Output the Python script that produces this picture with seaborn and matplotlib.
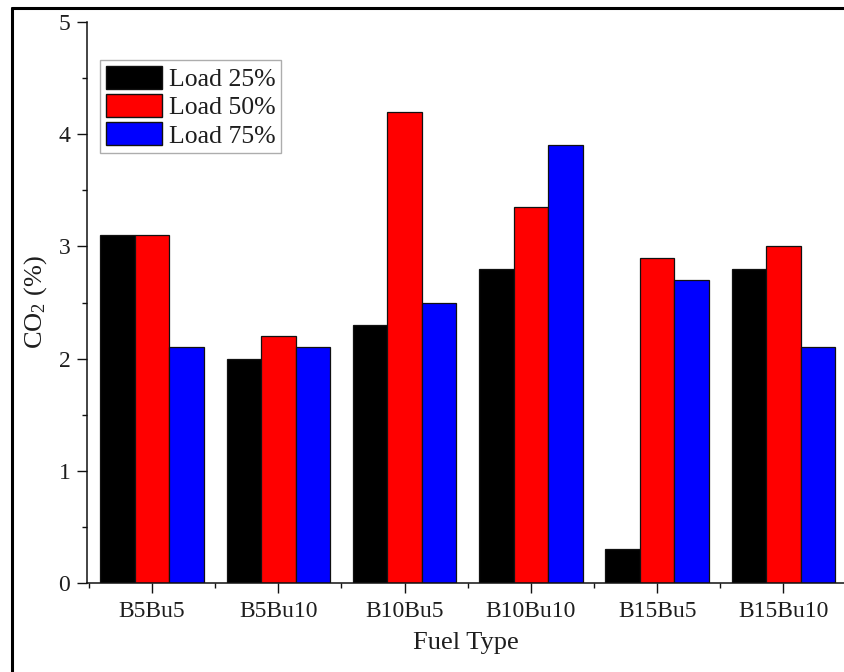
import matplotlib
matplotlib.use("Agg")
import matplotlib.pyplot as plt
from matplotlib.lines import Line2D
from matplotlib.ticker import MultipleLocator, FixedLocator
import seaborn as sns
import pandas as pd

fuels = ["B5Bu5", "B5Bu10", "B10Bu5", "B10Bu10", "B15Bu5", "B15Bu10"]
loads = ["Load 25%", "Load 50%", "Load 75%"]
co2_load25 = [3.1, 2.0, 2.3, 2.8, 0.3, 2.8]
co2_load50 = [3.1, 2.2, 4.2, 3.35, 2.9, 3.0]
co2_load75 = [2.1, 2.1, 2.5, 3.9, 2.7, 2.1]
bar_colors = ["#000000", "#ff0000", "#0000ff"]

df = pd.DataFrame({
    "Fuel": fuels * 3,
    "Load": [loads[0]] * 6 + [loads[1]] * 6 + [loads[2]] * 6,
    "CO2": co2_load25 + co2_load50 + co2_load75,
})

sns.set_style("ticks")
plt.rcParams["font.family"] = ["Liberation Serif", "DejaVu Serif"]
plt.rcParams["mathtext.fontset"] = "custom"
plt.rcParams["mathtext.rm"] = "Liberation Serif"
plt.rcParams["mathtext.it"] = "Liberation Serif:italic"

TEXT = "#1e1e1e"
W, H = 844, 672
fig = plt.figure(figsize=(W / 100, H / 100), dpi=100)
left, right, top, bottom = 87, 844, 22, 583
ax = fig.add_axes([left / W, 1 - bottom / H, (right - left) / W, (bottom - top) / H])

sns.barplot(data=df, x="Fuel", y="CO2", hue="Load", order=fuels, hue_order=loads,
            palette=bar_colors, width=0.82, edgecolor="#111111", linewidth=0.9,
            saturation=1, ax=ax, legend=False)

ax.set_xlim(-0.515, 5.48)
ax.set_ylim(0, 5)
ax.yaxis.set_major_locator(MultipleLocator(1))
ax.yaxis.set_minor_locator(MultipleLocator(0.5))
ax.xaxis.set_minor_locator(FixedLocator([i + 0.5 for i in range(-1, len(fuels))]))

for s in ["top", "right"]:
    ax.spines[s].set_visible(False)
for s in ["left", "bottom"]:
    ax.spines[s].set_linewidth(1.1)
    ax.spines[s].set_color("#111111")

ax.tick_params(axis="both", which="major", direction="out", length=7, width=1.0,
               colors="#111111", labelsize=17, labelcolor=TEXT)
ax.tick_params(axis="both", which="minor", direction="out", length=3.5, width=1.0,
               colors="#111111")
ax.tick_params(axis="y", which="major", pad=5)
ax.tick_params(axis="x", which="major", pad=6)

ax.set_xlabel("Fuel Type", fontsize=19, color=TEXT, labelpad=7)
ax.set_ylabel(r"CO$_2$ (%)", fontsize=19, color=TEXT, labelpad=7)

handles = [plt.Rectangle((0, 0), 1, 1, facecolor=c, edgecolor="#111111", linewidth=1.0)
           for c in bar_colors]
leg = ax.legend(handles, loads, loc="upper left",
                bbox_to_anchor=(100 / W, 1 - 60 / H), bbox_transform=fig.transFigure,
                fontsize=18.5, frameon=True, fancybox=False, edgecolor="#999999",
                handlelength=2.2, handleheight=1.0, labelspacing=0.12,
                handletextpad=0.25, borderpad=0.22, borderaxespad=0)
leg.get_frame().set_linewidth(1.0)
for t in leg.get_texts():
    t.set_color(TEXT)

# outer frame around the figure (left and top edges visible)
fig.add_artist(Line2D([12 / W, 12 / W], [1 - 8 / H, 0], transform=fig.transFigure,
                      color="#000000", linewidth=2.2))
fig.add_artist(Line2D([12 / W, 1], [1 - 8 / H, 1 - 8 / H], transform=fig.transFigure,
                      color="#000000", linewidth=2.2))

fig.savefig("out.png", dpi=100)
